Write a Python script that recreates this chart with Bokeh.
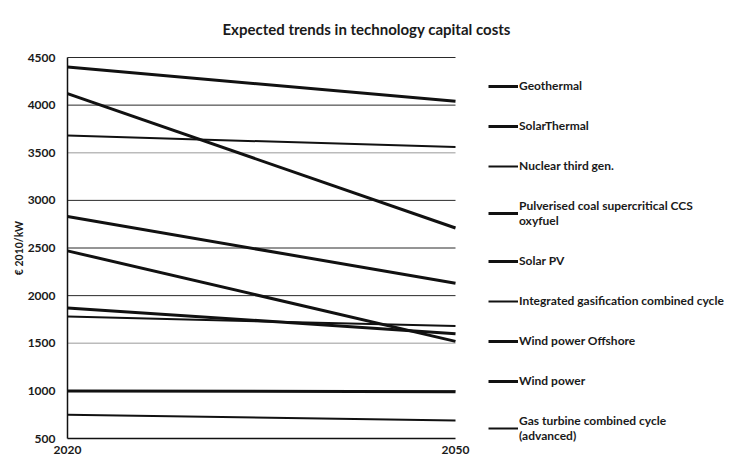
from bokeh.plotting import figure
from bokeh.models import Range1d, FixedTicker, Legend, LegendItem, ColumnDataSource, Title
from bokeh.embed import file_html
from bokeh.resources import INLINE

years = [2020, 2050]
series_names = [
    "Geothermal",
    "SolarThermal",
    "Nuclear third gen.",
    "Pulverised coal supercritical CCS\noxyfuel",
    "Solar PV",
    "Integrated gasification combined cycle",
    "Wind power Offshore",
    "Wind power",
    "Gas turbine combined cycle\n(advanced)",
]
geothermal = [4400, 4040]
solar_thermal = [4120, 2710]
nuclear = [3680, 3560]
pulverised_coal_ccs = [1870, 1600]
solar_pv = [2470, 1520]
igcc = [1780, 1680]
wind_offshore = [2830, 2130]
wind_power = [1000, 990]
gas_turbine_cc = [750, 690]
series_values = [geothermal, solar_thermal, nuclear, pulverised_coal_ccs, solar_pv,
                 igcc, wind_offshore, wind_power, gas_turbine_cc]
line_widths = [3, 3, 2, 3, 3, 2, 3, 3, 2]

y_ticks = [500, 1000, 1500, 2000, 2500, 3000, 3500, 4000, 4500]
light_grid_values = [1500, 3500]
x_ticks = [2020, 2050]

FONT = "Lato"

# Layout: the plot frame covers the canvas below a 46 px title band; the data
# area (2020-2050, 500-4500) is 388 x 381 px with its top-left corner at
# (67, 57); the rest of the frame holds the axis labels and the legend.
LEFT = 67
TOP_BAND = 46
DATA_TOP = 57
FRAME_W = 730
DATA_W = 388
DATA_H = 381
y_min, y_max = y_ticks[0], y_ticks[-1]
x_span = years[-1] - years[0]
y_span = y_max - y_min
x_start = years[0] - x_span * LEFT / DATA_W
x_end = years[0] + x_span * (FRAME_W - LEFT) / DATA_W
y_end = y_max + y_span * (DATA_TOP - TOP_BAND) / DATA_H
y_start = y_max - y_span * (461 - DATA_TOP) / DATA_H

p = figure(width=730, height=461, x_range=Range1d(x_start, x_end),
           y_range=Range1d(y_start, y_end),
           output_backend="svg", toolbar_location=None,
           min_border_left=0, min_border_right=0, min_border_top=TOP_BAND, min_border_bottom=0)

t = Title(text="Expected trends in technology capital costs", align="left", offset=222,
          vertical_align="bottom",
          text_font=FONT, text_font_size="15px", text_font_style="bold", text_color="#1a1a1a",
          standoff=18)
p.add_layout(t, "above")

p.outline_line_color = None
p.xgrid.visible = False
p.ygrid.visible = False

dark_grid = [v for v in y_ticks[1:] if v not in light_grid_values]
p.segment(x0=[years[0]] * len(dark_grid), x1=[years[-1]] * len(dark_grid), y0=dark_grid,
          y1=dark_grid, line_color="#2a2a2a", line_width=1)
p.segment(x0=[years[0]] * len(light_grid_values), x1=[years[-1]] * len(light_grid_values),
          y0=light_grid_values, y1=light_grid_values, line_color="#bbbbbb", line_width=1.5)

p.yaxis.ticker = FixedTicker(ticks=y_ticks)
p.xaxis.ticker = FixedTicker(ticks=x_ticks)
p.xaxis.bounds = (years[0], years[-1])
p.yaxis.bounds = (y_min, y_max)
p.xaxis.fixed_location = y_min
p.yaxis.fixed_location = years[0]
for ax in (p.xaxis[0], p.yaxis[0]):
    ax.major_tick_out = 0
    ax.major_tick_in = 0
    ax.minor_tick_out = 0
    ax.minor_tick_in = 0
    ax.axis_line_color = "#111111"
    ax.axis_line_width = 1.5
    ax.major_label_text_font = FONT
    ax.major_label_text_font_style = "bold"
    ax.major_label_text_font_size = "12px"
    ax.major_label_text_color = "#1a1a1a"
p.yaxis.major_label_standoff = 12
p.xaxis.major_label_standoff = 7
p.yaxis.axis_label = "€ 2010/kW"
p.yaxis.axis_label_text_font = FONT
p.yaxis.axis_label_text_font_style = "bold"
p.yaxis.axis_label_text_font_size = "10.5px"
p.yaxis.axis_label_text_color = "#1a1a1a"
p.yaxis.axis_label_standoff = 0

items = []
for name, vals, lw in zip(series_names, series_values, line_widths):
    src = ColumnDataSource(dict(x=years, y=vals))
    r = p.line("x", "y", source=src, line_color="#111111", line_width=lw)
    items.append(LegendItem(label=name, renderers=[r]))

legend = Legend(items=items, location=(488, 18), orientation="vertical", spacing=25,
                padding=0, margin=0, glyph_width=30, glyph_height=12, label_height=12,
                label_standoff=1, label_text_font=FONT, label_text_font_style="bold",
                label_text_font_size="12px", label_text_color="#1a1a1a",
                border_line_color=None, background_fill_alpha=0)
p.add_layout(legend)

open("out.html", "w").write(file_html(p, INLINE))
